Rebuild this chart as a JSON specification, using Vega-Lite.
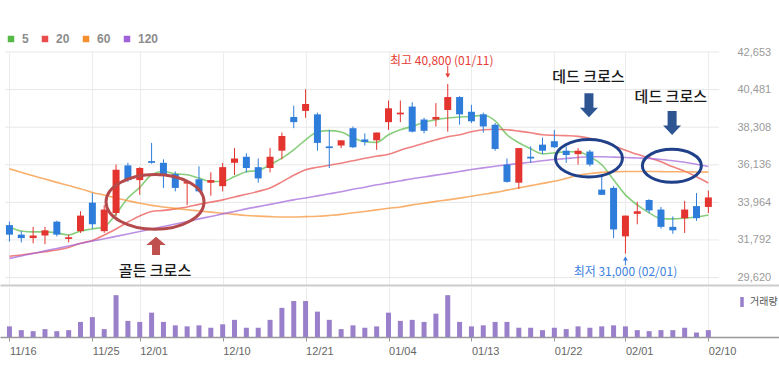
{
  "$schema": "https://vega.github.io/schema/vega-lite/v6.json",
  "padding": {"left": 0, "top": 33, "right": 0, "bottom": 0},
  "background": "white",
  "config": {"view": {"stroke": null}, "text": {"font": "Noto Sans CJK KR"}},
  "spacing": 2,
  "data": {"values": [
    {"i":0,"d":"11/16","o":32650,"h":32850,"l":31700,"c":32100,"ma5":32560,"ma20":30850,"ma60":35900,"ma120":30730,"v":310000},
    {"i":1,"d":"11/17","o":32100,"h":32300,"l":31650,"c":31900,"ma5":32310,"ma20":30920,"ma60":35700,"ma120":30870,"v":200000},
    {"i":2,"d":"11/18","o":31900,"h":32550,"l":31600,"c":32050,"ma5":32260,"ma20":31020,"ma60":35500,"ma120":31010,"v":170000},
    {"i":3,"d":"11/19","o":32050,"h":32550,"l":31550,"c":32350,"ma5":32260,"ma20":31110,"ma60":35310,"ma120":31160,"v":230000},
    {"i":4,"d":"11/20","o":32850,"h":32900,"l":32000,"c":32100,"ma5":32200,"ma20":31210,"ma60":35120,"ma120":31300,"v":170000},
    {"i":5,"d":"11/23","o":31850,"h":32100,"l":31650,"c":31950,"ma5":32080,"ma20":31360,"ma60":34940,"ma120":31440,"v":200000},
    {"i":6,"d":"11/24","o":32300,"h":33450,"l":32200,"c":33200,"ma5":32310,"ma20":31600,"ma60":34750,"ma120":31590,"v":440000},
    {"i":7,"d":"11/25","o":33950,"h":34500,"l":32450,"c":32700,"ma5":32430,"ma20":31760,"ma60":34540,"ma120":31730,"v":580000},
    {"i":8,"d":"11/26","o":32300,"h":33800,"l":32200,"c":33550,"ma5":32560,"ma20":32080,"ma60":34390,"ma120":31860,"v":230000},
    {"i":9,"d":"11/27","o":33350,"h":36150,"l":33150,"c":35850,"ma5":33300,"ma20":32430,"ma60":34220,"ma120":32000,"v":1220000},
    {"i":10,"d":"11/30","o":36100,"h":36250,"l":35150,"c":35250,"ma5":34220,"ma20":32830,"ma60":34060,"ma120":32140,"v":470000},
    {"i":11,"d":"12/01","o":35250,"h":36000,"l":34400,"c":35950,"ma5":34830,"ma20":33180,"ma60":33910,"ma120":32280,"v":440000},
    {"i":12,"d":"12/02","o":36350,"h":37400,"l":36200,"c":36250,"ma5":35560,"ma20":33440,"ma60":33790,"ma120":32430,"v":710000},
    {"i":13,"d":"12/03","o":36250,"h":36450,"l":34800,"c":35600,"ma5":35750,"ma20":33500,"ma60":33700,"ma120":32570,"v":440000},
    {"i":14,"d":"12/04","o":35600,"h":35750,"l":34600,"c":34800,"ma5":35610,"ma20":33590,"ma60":33620,"ma120":32720,"v":340000},
    {"i":15,"d":"12/07","o":35050,"h":35250,"l":33800,"c":35150,"ma5":35560,"ma20":33700,"ma60":33540,"ma120":32860,"v":310000},
    {"i":16,"d":"12/08","o":35300,"h":36050,"l":34550,"c":34600,"ma5":35370,"ma20":33850,"ma60":33470,"ma120":33010,"v":340000},
    {"i":17,"d":"12/09","o":35100,"h":35700,"l":34350,"c":35250,"ma5":35170,"ma20":33980,"ma60":33400,"ma120":33150,"v":270000},
    {"i":18,"d":"12/10","o":34900,"h":36250,"l":34600,"c":36000,"ma5":35170,"ma20":34110,"ma60":33340,"ma120":33300,"v":370000},
    {"i":19,"d":"12/11","o":36250,"h":37100,"l":35550,"c":36500,"ma5":35460,"ma20":34280,"ma60":33270,"ma120":33440,"v":500000},
    {"i":20,"d":"12/14","o":36600,"h":36800,"l":35700,"c":35950,"ma5":35730,"ma20":34430,"ma60":33210,"ma120":33590,"v":270000},
    {"i":21,"d":"12/15","o":36000,"h":36500,"l":35100,"c":35350,"ma5":35810,"ma20":34600,"ma60":33170,"ma120":33720,"v":270000},
    {"i":22,"d":"12/16","o":35950,"h":37100,"l":35700,"c":36600,"ma5":36140,"ma20":34800,"ma60":33140,"ma120":33850,"v":500000},
    {"i":23,"d":"12/17","o":36950,"h":38000,"l":36450,"c":37800,"ma5":36520,"ma20":35150,"ma60":33120,"ma120":33980,"v":850000},
    {"i":24,"d":"12/18","o":38900,"h":39550,"l":38250,"c":38600,"ma5":37000,"ma20":35530,"ma60":33120,"ma120":34110,"v":1050000},
    {"i":25,"d":"12/21","o":39250,"h":40500,"l":38850,"c":39650,"ma5":37580,"ma20":35850,"ma60":33140,"ma120":34220,"v":1050000},
    {"i":26,"d":"12/22","o":39050,"h":39150,"l":36950,"c":37400,"ma5":38030,"ma20":35990,"ma60":33160,"ma120":34340,"v":740000},
    {"i":27,"d":"12/23","o":37200,"h":38150,"l":35950,"c":37100,"ma5":38110,"ma20":36110,"ma60":33210,"ma120":34460,"v":500000},
    {"i":28,"d":"12/24","o":37250,"h":37550,"l":37100,"c":37550,"ma5":38030,"ma20":36230,"ma60":33270,"ma120":34580,"v":230000},
    {"i":29,"d":"12/28","o":38250,"h":38350,"l":37100,"c":37150,"ma5":37700,"ma20":36370,"ma60":33360,"ma120":34720,"v":340000},
    {"i":30,"d":"12/29","o":37600,"h":37950,"l":37250,"c":37450,"ma5":37470,"ma20":36510,"ma60":33440,"ma120":34840,"v":270000},
    {"i":31,"d":"12/30","o":37550,"h":38000,"l":37000,"c":38000,"ma5":37430,"ma20":36630,"ma60":33530,"ma120":34980,"v":310000},
    {"i":32,"d":"01/04","o":38600,"h":39850,"l":38150,"c":39400,"ma5":37870,"ma20":36740,"ma60":33620,"ma120":35090,"v":710000},
    {"i":33,"d":"01/05","o":39050,"h":39850,"l":38600,"c":39150,"ma5":38160,"ma20":36980,"ma60":33700,"ma120":35210,"v":470000},
    {"i":34,"d":"01/06","o":39500,"h":39750,"l":38000,"c":38050,"ma5":38350,"ma20":37180,"ma60":33820,"ma120":35330,"v":500000},
    {"i":35,"d":"01/07","o":38750,"h":38850,"l":37950,"c":38100,"ma5":38590,"ma20":37380,"ma60":33910,"ma120":35430,"v":440000},
    {"i":36,"d":"01/08","o":38750,"h":39700,"l":38350,"c":38900,"ma5":38740,"ma20":37580,"ma60":34020,"ma120":35540,"v":680000},
    {"i":37,"d":"01/11","o":39300,"h":40800,"l":38050,"c":40050,"ma5":38840,"ma20":37760,"ma60":34110,"ma120":35640,"v":1220000},
    {"i":38,"d":"01/12","o":40050,"h":40100,"l":38450,"c":39050,"ma5":38900,"ma20":37870,"ma60":34210,"ma120":35750,"v":440000},
    {"i":39,"d":"01/13","o":39200,"h":39600,"l":38550,"c":38650,"ma5":38930,"ma20":38050,"ma60":34320,"ma120":35860,"v":310000},
    {"i":40,"d":"01/14","o":39050,"h":39150,"l":38000,"c":38350,"ma5":39000,"ma20":38160,"ma60":34430,"ma120":35960,"v":340000},
    {"i":41,"d":"01/15","o":38450,"h":38550,"l":36950,"c":37050,"ma5":38680,"ma20":38190,"ma60":34540,"ma120":36050,"v":440000},
    {"i":42,"d":"01/18","o":36150,"h":36500,"l":35100,"c":35150,"ma5":37870,"ma20":38160,"ma60":34670,"ma120":36140,"v":440000},
    {"i":43,"d":"01/19","o":35100,"h":37100,"l":34750,"c":37100,"ma5":37410,"ma20":38080,"ma60":34800,"ma120":36210,"v":270000},
    {"i":44,"d":"01/20","o":36600,"h":37200,"l":36250,"c":36500,"ma5":37060,"ma20":37990,"ma60":34930,"ma120":36280,"v":270000},
    {"i":45,"d":"01/21","o":37300,"h":37700,"l":36750,"c":36950,"ma5":36770,"ma20":37870,"ma60":35060,"ma120":36370,"v":200000},
    {"i":46,"d":"01/22","o":37500,"h":38150,"l":37100,"c":37150,"ma5":36830,"ma20":37840,"ma60":35180,"ma120":36440,"v":270000},
    {"i":47,"d":"01/25","o":36950,"h":37200,"l":36250,"c":36700,"ma5":36890,"ma20":37820,"ma60":35350,"ma120":36500,"v":230000},
    {"i":48,"d":"01/26","o":36750,"h":37100,"l":36150,"c":36950,"ma5":36890,"ma20":37780,"ma60":35530,"ma120":36560,"v":310000},
    {"i":49,"d":"01/27","o":36900,"h":37000,"l":36050,"c":36150,"ma5":36600,"ma20":37670,"ma60":35630,"ma120":36600,"v":270000},
    {"i":50,"d":"01/28","o":34700,"h":35600,"l":34400,"c":34400,"ma5":36140,"ma20":37500,"ma60":35700,"ma120":36600,"v":310000},
    {"i":51,"d":"01/29","o":34800,"h":34900,"l":31900,"c":32400,"ma5":35270,"ma20":37240,"ma60":35730,"ma120":36580,"v":340000},
    {"i":52,"d":"02/01","o":32000,"h":33200,"l":31000,"c":33200,"ma5":34400,"ma20":36980,"ma60":35750,"ma120":36560,"v":310000},
    {"i":53,"d":"02/02","o":33300,"h":34000,"l":32700,"c":33450,"ma5":33820,"ma20":36740,"ma60":35750,"ma120":36530,"v":200000},
    {"i":54,"d":"02/03","o":34100,"h":34150,"l":33350,"c":33500,"ma5":33360,"ma20":36540,"ma60":35750,"ma120":36500,"v":170000},
    {"i":55,"d":"02/04","o":33550,"h":33700,"l":32450,"c":32550,"ma5":33040,"ma20":36310,"ma60":35740,"ma120":36440,"v":200000},
    {"i":56,"d":"02/05","o":32550,"h":33150,"l":32150,"c":32350,"ma5":33010,"ma20":36020,"ma60":35730,"ma120":36370,"v":200000},
    {"i":57,"d":"02/08","o":33050,"h":34050,"l":32200,"c":33550,"ma5":33050,"ma20":35770,"ma60":35730,"ma120":36280,"v":270000},
    {"i":58,"d":"02/09","o":33750,"h":34500,"l":32900,"c":33050,"ma5":33120,"ma20":35440,"ma60":35720,"ma120":36170,"v":130000},
    {"i":59,"d":"02/10","o":33700,"h":34650,"l":33350,"c":34250,"ma5":33240,"ma20":35080,"ma60":35710,"ma120":36040,"v":200000}
  ]},
  "vconcat": [
    {
      "width": 779,
      "height": 233,
      "encoding": {
        "y": {"type": "quantitative", "scale": {"domain": [29190, 42653], "nice": false, "zero": false},
              "axis": {"orient": "right", "offset": -42, "values": [29620,31792,33964,36136,38308,40481,42653], "format": ",d", "ticks": false, "domain": false, "grid": false, "labelPadding": 0, "labelAlign": "left", "labelOverlap": false, "labelSeparation": -40, "labelBound": false, "labelFont": "Liberation Sans", "labelFontSize": 11, "labelColor": "#9a9a9a", "title": null}}
      },
      "layer": [
        {
          "data": {"values": [{"g":29620},{"g":31792},{"g":33964},{"g":36136},{"g":38308},{"g":40481},{"g":42653}]},
          "mark": {"type": "rule", "color": "#e8e8e8", "strokeWidth": 1},
          "encoding": {
            "x": {"datum": -0.375, "type": "quantitative", "scale": {"domain": [-0.375, 64.5417], "nice": false, "zero": false},
                  "axis": {"orient": "bottom", "values": [0,7,11,18,25,32,39,46,52,59], "labels": false, "ticks": false, "domain": true, "domainColor": "#cccccc", "domainWidth": 2, "grid": true, "gridColor": "#ececec", "title": null}},
            "x2": {"datum": 59.9},
            "y": {"field": "g"}
          }
        },
        {
          "transform": [{"fold": ["ma5", "ma20", "ma60", "ma120"], "as": ["s", "mv"]}],
          "mark": {"type": "line", "strokeWidth": 1.6, "opacity": 0.7, "interpolate": "monotone"},
          "encoding": {
            "x": {"field": "i", "type": "quantitative"},
            "y": {"field": "mv"},
            "color": {"field": "s", "type": "nominal",
              "scale": {"domain": ["ma5", "ma20", "ma60", "ma120"], "range": ["#56b946", "#ea4b4b", "#f58f2e", "#a062d8"]},
              "legend": {"orient": "none", "legendX": 5, "legendY": -19, "direction": "horizontal", "title": null,
                "symbolType": "square", "symbolSize": 4, "symbolStrokeWidth": 4.5, "symbolOpacity": 1,
                "labelFont": "Liberation Sans", "labelFontSize": 12, "labelFontWeight": "bold", "labelColor": "#8c8c8c",
                "columnPadding": 6, "labelOffset": 5, "padding": 0,
                "labelExpr": "replace(datum.label, 'ma', '')"}}
          }
        },
        {
          "mark": {"type": "rule", "strokeWidth": 1},
          "encoding": {
            "x": {"field": "i", "type": "quantitative"},
            "y": {"field": "l"},
            "y2": {"field": "h"},
            "color": {"condition": {"test": "datum.c >= datum.o", "value": "#e3342f"}, "value": "#2f7ddb"}
          }
        },
        {
          "mark": {"type": "bar", "width": 7},
          "encoding": {
            "x": {"field": "i", "type": "quantitative"},
            "y": {"field": "o"},
            "y2": {"field": "c"},
            "color": {"condition": {"test": "datum.c >= datum.o", "value": "#e3342f"}, "value": "#2f7ddb"}
          }
        },
        {
          "data": {"values": [{"i": 12.29, "y": 33993}]},
          "mark": {"type": "point", "shape": "M1,0C1,0.309 0.552,0.56 0,0.56C-0.552,0.56 -1,0.309 -1,0C-1,-0.309 -0.552,-0.56 0,-0.56C0.552,-0.56 1,-0.309 1,0Z", "size": 9604, "filled": false, "color": "#b44a4c", "strokeWidth": 3, "opacity": 1},
          "encoding": {"x": {"field": "i", "type": "quantitative"}, "y": {"field": "y"}}
        },
        {
          "data": {"values": [{"i": 48.92, "y": 36513}]},
          "mark": {"type": "point", "shape": "M1,0C1,0.309 0.552,0.56 0,0.56C-0.552,0.56 -1,0.309 -1,0C-1,-0.309 -0.552,-0.56 0,-0.56C0.552,-0.56 1,-0.309 1,0Z", "size": 4489, "filled": false, "color": "#20408a", "strokeWidth": 3, "opacity": 1},
          "encoding": {"x": {"field": "i", "type": "quantitative"}, "y": {"field": "y"}}
        },
        {
          "data": {"values": [{"i": 55.92, "y": 36078}]},
          "mark": {"type": "point", "shape": "M1,0C1,0.309 0.552,0.56 0,0.56C-0.552,0.56 -1,0.309 -1,0C-1,-0.309 -0.552,-0.56 0,-0.56C0.552,-0.56 1,-0.309 1,0Z", "size": 3481, "filled": false, "color": "#20408a", "strokeWidth": 3, "opacity": 1},
          "encoding": {"x": {"field": "i", "type": "quantitative"}, "y": {"field": "y"}}
        },
        {
          "data": {"values": [{"i": 12.375, "y": 31445}]},
          "mark": {"type": "point", "shape": "M0,-0.93L0.97,-0.1L0.4,-0.1L0.4,0.9L-0.4,0.9L-0.4,-0.1L-0.97,-0.1Z", "size": 400, "filled": true, "color": "#c0504d", "opacity": 1},
          "encoding": {"x": {"field": "i", "type": "quantitative"}, "y": {"field": "y"}}
        },
        {
          "data": {"values": [{"i": 48.92, "y": 39580}, {"i": 55.94, "y": 38557}]},
          "mark": {"type": "point", "shape": "M-0.45,-1.2L0.45,-1.2L0.45,0.25L0.9,0.25L0,1.2L-0.9,0.25L-0.45,0.25Z", "size": 400, "filled": true, "color": "#2e5592", "opacity": 1},
          "encoding": {"x": {"field": "i", "type": "quantitative"}, "y": {"field": "y"}}
        },
        {
          "data": {"values": [{"i": 37, "y1": 41870, "y2": 41233}]},
          "mark": {"type": "rule", "color": "#e63c36", "strokeWidth": 1},
          "encoding": {"x": {"field": "i", "type": "quantitative"}, "y": {"field": "y1"}, "y2": {"field": "y2"}}
        },
        {
          "data": {"values": [{"i": 37, "y": 41291}]},
          "mark": {"type": "point", "shape": "triangle-down", "size": 24, "filled": true, "color": "#e63c36", "opacity": 1},
          "encoding": {"x": {"field": "i", "type": "quantitative"}, "y": {"field": "y"}}
        },
        {
          "data": {"values": [{"i": 52, "y1": 30808, "y2": 30344}]},
          "mark": {"type": "rule", "color": "#3c7fe0", "strokeWidth": 1},
          "encoding": {"x": {"field": "i", "type": "quantitative"}, "y": {"field": "y1"}, "y2": {"field": "y2"}}
        },
        {
          "data": {"values": [{"i": 52, "y": 30721}]},
          "mark": {"type": "point", "shape": "triangle-up", "size": 24, "filled": true, "color": "#3c7fe0", "opacity": 1},
          "encoding": {"x": {"field": "i", "type": "quantitative"}, "y": {"field": "y"}}
        },
        {
          "data": {"values": [{"i": 37, "y": 42150, "t": "최고 40,800 (01/11)"}]},
          "mark": {"type": "text", "fontSize": 12, "color": "#e63c36", "dx": -6, "baseline": "middle"},
          "encoding": {"x": {"field": "i", "type": "quantitative"}, "y": {"field": "y"}, "text": {"field": "t"}}
        },
        {
          "data": {"values": [{"i": 52, "y": 29968, "t": "최저 31,000 (02/01)"}]},
          "mark": {"type": "text", "fontSize": 12, "color": "#3c7fe0", "baseline": "middle"},
          "encoding": {"x": {"field": "i", "type": "quantitative"}, "y": {"field": "y"}, "text": {"field": "t"}}
        },
        {
          "data": {"values": [
            {"i": 12.29, "y": 29997, "t": "골든 크로스"},
            {"i": 48.88, "y": 41204, "t": "데드 크로스"},
            {"i": 55.83, "y": 40046, "t": "데드 크로스"}
          ]},
          "mark": {"type": "text", "fontSize": 15, "fontWeight": 500, "color": "#1a1a1a", "baseline": "middle"},
          "encoding": {"x": {"field": "i", "type": "quantitative"}, "y": {"field": "y"}, "text": {"field": "t"}}
        }
      ]
    },
    {
      "width": 779,
      "height": 50,
      "mark": {"type": "bar", "width": 5},
      "encoding": {
        "x": {"field": "i", "type": "quantitative", "scale": {"domain": [-0.375, 64.5417], "nice": false, "zero": false},
              "axis": {"values": [0,7,11,18,25,32,39,46,52,59],
                "labelExpr": "datum.value==0?'11/16':datum.value==7?'11/25':datum.value==11?'12/01':datum.value==18?'12/10':datum.value==25?'12/21':datum.value==32?'01/04':datum.value==39?'01/13':datum.value==46?'01/22':datum.value==52?'02/01':'02/10'",
                "labelAlign": "left", "labelFont": "Liberation Sans", "labelFontSize": 11, "labelColor": "#666666", "labelOverlap": false, "labelBound": false,
                "tickSize": 4, "tickColor": "#999999", "labelPadding": 4, "domainColor": "#999999", "domainWidth": 1.5,
                "grid": true, "gridColor": "#ececec", "title": null}},
        "y": {"field": "v", "type": "quantitative", "scale": {"domain": [0, 1458000], "nice": false}, "axis": null},
        "fill": {"datum": "거래량", "scale": {"range": ["#9a7fca"]},
          "legend": {"orient": "none", "legendX": 737, "legendY": 245, "title": null,
            "symbolType": "M-0.35,-1H0.35V1H-0.35Z", "symbolSize": 100, "symbolStrokeWidth": 0,
            "labelFont": "Noto Sans CJK KR", "labelFontSize": 10, "labelColor": "#555555", "labelOffset": 3, "padding": 0}}
      }
    }
  ]
}
